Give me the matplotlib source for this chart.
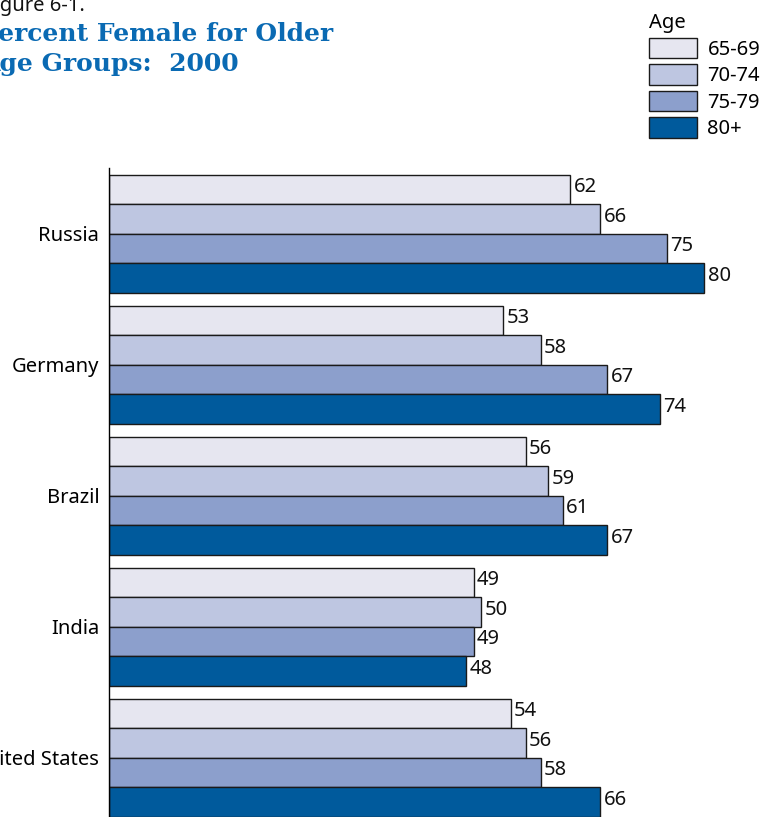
import matplotlib.pyplot as plt
import numpy as np
from matplotlib.patches import Patch

countries = ["Russia", "Germany", "Brazil", "India", "United States"]
ages = ["65-69", "70-74", "75-79", "80+"]
values = {
    "65-69": [62, 53, 56, 49, 54],
    "70-74": [66, 58, 59, 50, 56],
    "75-79": [75, 67, 61, 49, 58],
    "80+":   [80, 74, 67, 48, 66],
}
colors = ["#e6e6f0", "#bec6e1", "#8c9fcc", "#005a9c"]

W, H = 776, 817
fig = plt.figure(figsize=(W / 100, H / 100), dpi=100)
ax = fig.add_axes([109 / W, 0, 1 - 109 / W, 1 - 168 / H])

first_top = 0.237
pitch = 4.44
group_top = first_top + pitch * np.arange(len(countries))

fs = 14.5
for j, age in enumerate(ages):
    ypos = group_top + j + 0.5
    bars = ax.barh(ypos, values[age], height=1.0, color=colors[j],
                   edgecolor="#1a1a1a", linewidth=1.0)
    for b, v in zip(bars, values[age]):
        ax.text(v + 0.45, b.get_y() + b.get_height() / 2 - 0.08, str(v),
                ha="left", va="center", fontsize=fs, family="Noto Sans",
                color="#111111")

ax.set_xlim(0, (W - 109) / 7.44)
ax.set_ylim((H - 168) / 29.5, 0)

ax.set_yticks(group_top + 2)
ax.set_yticklabels(countries, fontsize=fs, family="Noto Sans")
ax.tick_params(axis="y", length=0, pad=7)
ax.set_xticks([])
for s in ["top", "right", "bottom"]:
    ax.spines[s].set_visible(False)
ax.spines["left"].set_linewidth(1.0)

fig.text(-0.021, 1 - 11 / H, "Figure 6-1.", fontsize=fs, family="Noto Sans",
         ha="left", va="baseline", color="#111111")
fig.text(-0.026, 1 - 22 / H, "Percent Female for Older\nAge Groups:  2000",
         fontsize=18, family="DejaVu Serif", fontweight="bold",
         color="#0a6ab3", ha="left", va="top", linespacing=1.3)

handles = [Patch(facecolor=c, edgecolor="#1a1a1a", linewidth=1.0) for c in colors]
leg = fig.legend(handles, ages, title="Age", loc="upper left",
                 bbox_to_anchor=(635 / W, 1 + 1 / H), frameon=False,
                 prop={"family": "Noto Sans", "size": fs},
                 title_fontproperties={"family": "Noto Sans", "size": fs},
                 handlelength=2.4, handleheight=1.2, labelspacing=0.22,
                 handletextpad=0.5, borderpad=0.2)
leg._legend_box.align = "left"

fig.savefig("out.png", dpi=100)
